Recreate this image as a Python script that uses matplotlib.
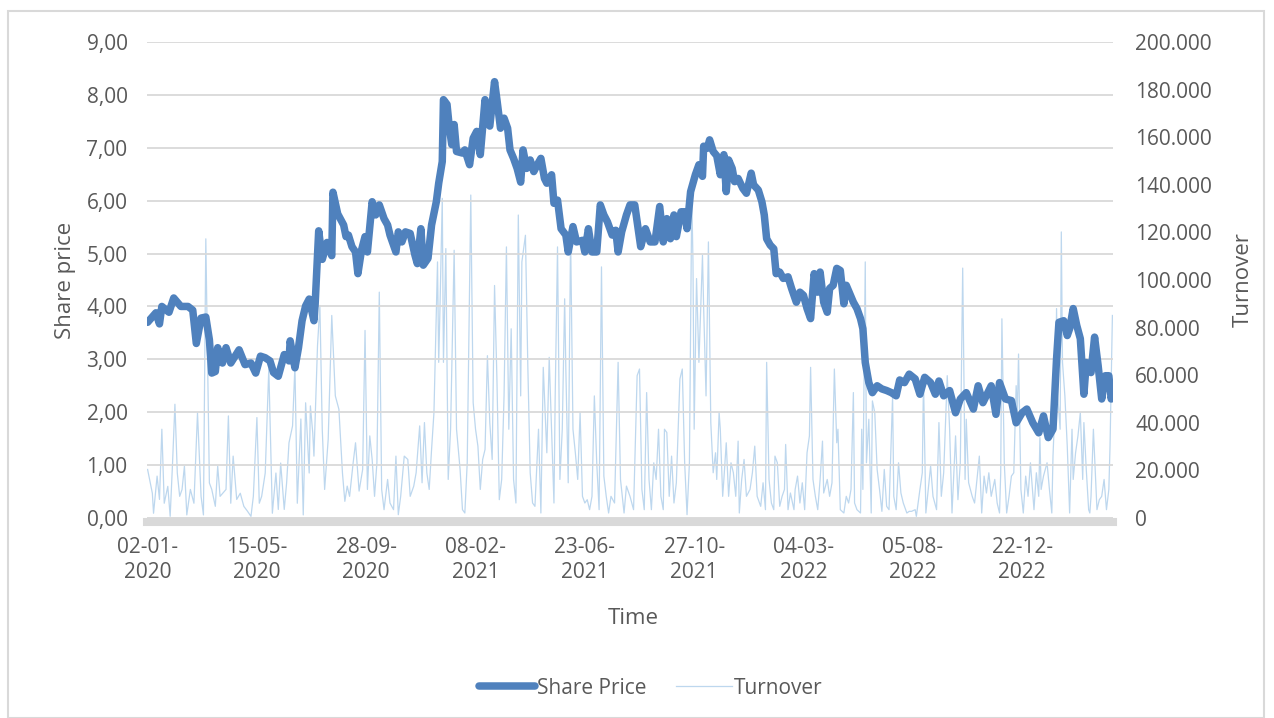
import matplotlib.pyplot as plt
from matplotlib.patches import Rectangle
from matplotlib.ticker import FuncFormatter, MultipleLocator

plt.rcParams['font.family'] = ['Open Sans', 'DejaVu Sans']

# trading-day index (0 = 02-01-2020) and share price
price_day = [0, 7, 10, 12, 18, 22, 28, 34, 38, 41, 45, 49, 52, 54, 57, 59, 63, 66, 70, 77,
             82, 87, 91, 95, 99, 103, 106, 110, 115, 119, 120, 124, 127, 130, 133, 136, 140, 141, 144, 147,
             151, 155, 156, 160, 165, 167, 169, 172, 175, 177, 180, 183, 185, 189, 192, 195, 199, 202, 204, 209,
             211, 214, 217, 221, 225, 227, 230, 232, 236, 239, 243, 245, 248, 249, 252, 254, 256, 258, 260, 265,
             267, 271, 274, 277, 280, 284, 288, 292, 294, 297, 300, 303, 305, 308, 311, 314, 316, 319, 322, 325,
             328, 331, 334, 336, 340, 342, 345, 348, 352, 354, 358, 361, 366, 368, 371, 374, 378, 381, 384, 387,
             391, 394, 396, 399, 403, 406, 410, 415, 419, 423, 427, 431, 434, 437, 440, 443, 445, 449, 452, 454,
             457, 461, 464, 467, 468, 471, 473, 476, 479, 482, 485, 487, 489, 492, 494, 497, 501, 504, 508, 510,
             514, 517, 519, 521, 524, 527, 529, 532, 535, 539, 542, 546, 549, 552, 555, 558, 561, 564, 566, 569,
             572, 574, 577, 580, 583, 586, 588, 591, 594, 597, 600, 602, 604, 607, 610, 614, 618, 622, 626, 630,
             633, 637, 641, 646, 650, 654, 659, 663, 666, 670, 675, 680, 684, 689, 695, 699, 703, 708, 710, 714,
             717, 722, 727, 731, 736, 740, 745, 750, 754, 758, 762, 765, 767, 771, 774, 776, 779, 782, 785, 788,
             790, 794, 797, 800, 803, 806, 809, 811, 812]
price = [3.70, 3.88, 3.67, 4.00, 3.89, 4.16, 4.00, 4.00, 3.93, 3.30, 3.78, 3.80, 3.37, 2.74, 2.77, 3.22, 2.93, 3.22, 2.93, 3.18,
         2.90, 2.93, 2.74, 3.06, 3.03, 2.97, 2.75, 2.68, 3.09, 2.97, 3.35, 2.84, 3.22, 3.73, 4.01, 4.14, 3.73, 4.04, 5.43, 4.89,
         5.21, 4.96, 6.16, 5.75, 5.54, 5.32, 5.35, 5.13, 5.03, 4.62, 5.06, 5.32, 5.03, 5.98, 5.73, 5.92, 5.66, 5.54, 5.35, 5.03,
         5.41, 5.22, 5.41, 5.38, 4.97, 4.81, 5.47, 4.78, 4.91, 5.54, 5.98, 6.33, 6.74, 7.91, 7.82, 7.37, 7.06, 7.44, 6.93, 6.90,
         6.96, 6.68, 7.18, 7.31, 6.87, 7.91, 7.41, 8.25, 7.91, 7.37, 7.56, 7.37, 6.96, 6.80, 6.61, 6.35, 6.96, 6.61, 6.77, 6.55,
         6.68, 6.80, 6.42, 6.33, 6.49, 5.95, 6.01, 5.47, 5.35, 5.03, 5.51, 5.22, 5.25, 5.03, 5.47, 5.03, 5.03, 5.92, 5.73, 5.60,
         5.35, 5.44, 5.03, 5.41, 5.73, 5.92, 5.92, 5.13, 5.47, 5.22, 5.22, 5.89, 5.22, 5.66, 5.28, 5.73, 5.32, 5.79, 5.79, 5.47,
         6.17, 6.49, 6.68, 6.46, 7.03, 6.99, 7.15, 6.93, 6.85, 6.49, 6.87, 6.17, 6.77, 6.61, 6.36, 6.42, 6.23, 6.14, 6.52, 6.30,
         6.20, 5.98, 5.73, 5.28, 5.16, 5.09, 4.62, 4.65, 4.53, 4.56, 4.34, 4.08, 4.27, 4.21, 3.96, 3.77, 4.62, 4.27, 4.65, 4.08,
         3.89, 4.34, 4.40, 4.72, 4.68, 4.05, 4.40, 4.24, 4.08, 3.96, 3.77, 3.58, 2.94, 2.56, 2.37, 2.50, 2.44, 2.41, 2.37, 2.31,
         2.61, 2.56, 2.72, 2.63, 2.34, 2.66, 2.56, 2.34, 2.59, 2.31, 2.41, 1.99, 2.25, 2.37, 2.06, 2.50, 2.18, 2.41, 2.50, 1.96,
         2.56, 2.25, 2.22, 1.80, 1.99, 2.06, 1.80, 1.61, 1.93, 1.52, 1.68, 3.01, 3.70, 3.73, 3.45, 3.58, 3.96, 3.64, 3.39, 2.34,
         2.94, 2.75, 3.42, 2.88, 2.25, 2.69, 2.69, 2.25, 2.37]

# turnover (thousands)
turnover_day = [0, 4, 5, 8, 10, 12, 14, 17, 19, 21, 23, 25, 27, 29, 31, 33, 36, 39, 42, 45,
                47, 49, 52, 54, 57, 59, 61, 66, 68, 70, 72, 75, 78, 81, 84, 87, 89, 92, 94, 96,
                99, 102, 105, 108, 110, 112, 115, 117, 119, 122, 124, 126, 129, 131, 133, 136, 137, 139, 140, 143,
                145, 147, 149, 152, 155, 158, 161, 164, 166, 168, 170, 173, 175, 178, 181, 183, 185, 187, 189, 191,
                193, 195, 197, 199, 202, 204, 207, 209, 211, 213, 216, 219, 221, 224, 226, 229, 231, 233, 235, 237,
                239, 241, 244, 245, 246, 248, 249, 251, 253, 255, 258, 260, 263, 265, 267, 269, 272, 274, 276, 278,
                280, 282, 284, 286, 288, 290, 292, 294, 296, 298, 300, 302, 304, 306, 308, 310, 312, 314, 315, 318,
                320, 322, 324, 326, 329, 331, 333, 336, 338, 340, 342, 343, 345, 347, 349, 351, 352, 354, 356, 358,
                360, 362, 364, 366, 368, 370, 372, 374, 376, 378, 380, 382, 384, 386, 388, 390, 393, 396, 398, 401,
                403, 406, 409, 412, 414, 416, 418, 420, 422, 424, 426, 428, 430, 432, 434, 435, 437, 439, 441, 443,
                445, 448, 450, 452, 454, 456, 458, 459, 460, 462, 464, 467, 468, 470, 472, 474, 476, 478, 479, 481,
                482, 484, 485, 487, 489, 491, 493, 495, 497, 498, 500, 502, 504, 507, 509, 511, 513, 516, 518, 520,
                521, 523, 525, 527, 528, 530, 532, 534, 536, 537, 539, 541, 544, 545, 547, 549, 551, 553, 555, 557,
                558, 560, 562, 564, 566, 568, 569, 572, 574, 576, 578, 580, 581, 583, 586, 588, 590, 592, 594, 595,
                597, 600, 601, 602, 604, 605, 607, 609, 610, 612, 614, 616, 618, 620, 622, 624, 627, 628, 630, 632,
                634, 636, 639, 641, 643, 646, 647, 650, 652, 653, 655, 657, 659, 661, 664, 666, 668, 670, 673, 675,
                677, 679, 680, 682, 684, 686, 688, 689, 691, 694, 696, 698, 700, 702, 704, 706, 708, 710, 713, 715,
                717, 718, 719, 721, 723, 725, 727, 729, 731, 732, 733, 735, 737, 739, 741, 743, 746, 748, 750, 751,
                752, 754, 757, 759, 761, 762, 764, 765, 766, 768, 769, 770, 772, 774, 776, 778, 779, 781, 783, 785,
                787, 788, 790, 792, 793, 794, 796, 799, 801, 803, 805, 807, 809, 810, 812]
turnover_k = [20.4, 10.4, 2.0, 17.6, 7.8, 37.3, 6.2, 13.3, 0.7, 23.1, 47.8, 18.9, 9.1, 12.0, 21.8, 1.3, 12.0, 6.2, 44.2, 9.1,
              1.3, 117.3, 14.7, 12.0, 4.9, 21.8, 9.1, 12.0, 42.9, 6.2, 26.0, 7.8, 10.4, 4.9, 2.9, 0.7, 9.1, 42.2, 6.2, 9.1,
              18.9, 62.7, 2.0, 18.9, 3.6, 23.1, 3.6, 14.7, 31.6, 38.7, 64.0, 6.2, 41.6, 1.3, 48.4, 18.9, 47.1, 35.8, 26.0, 72.4,
              89.3, 37.3, 12.0, 33.1, 85.1, 51.3, 45.7, 18.9, 7.0, 13.4, 9.1, 23.2, 31.6, 11.3, 20.4, 78.8, 12.0, 34.5, 24.6, 9.1,
              23.2, 94.9, 12.0, 3.5, 16.2, 6.3, 3.5, 26.0, 1.4, 9.1, 26.0, 24.6, 9.1, 13.4, 19.0, 38.7, 14.8, 40.1, 19.0, 12.0,
              28.8, 44.3, 107.6, 65.4, 86.5, 134.3, 65.4, 113.2, 16.2, 37.3, 112.5, 37.3, 20.4, 3.5, 2.1, 23.2, 135.7, 48.5, 37.3, 30.2,
              12.0, 24.6, 28.8, 68.2, 40.1, 24.6, 97.7, 58.4, 7.7, 16.2, 51.3, 113.9, 37.3, 79.5, 16.2, 6.3, 127.3, 51.3, 107.6, 118.8,
              64.0, 19.0, 6.3, 4.9, 37.3, 2.1, 63.3, 27.4, 67.5, 37.3, 6.3, 49.9, 113.9, 16.2, 37.3, 92.1, 62.6, 14.8, 118.8, 37.3,
              27.4, 16.2, 44.3, 9.1, 6.3, 7.7, 3.5, 9.1, 51.3, 23.2, 3.5, 105.5, 17.6, 9.1, 2.1, 9.1, 6.3, 65.4, 16.2, 2.1,
              13.4, 9.1, 3.5, 59.8, 62.6, 12.0, 3.5, 52.7, 16.2, 3.5, 23.2, 16.2, 37.3, 9.1, 3.5, 37.3, 35.9, 9.1, 26.0, 6.3,
              14.8, 58.4, 62.6, 23.2, 1.4, 23.2, 135.7, 107.6, 37.3, 100.6, 65.4, 110.4, 88.0, 51.3, 116.0, 40.1, 19.0, 27.4, 16.2, 44.3,
              37.3, 9.1, 16.2, 31.6, 9.1, 23.2, 19.0, 9.1, 32.3, 2.1, 16.2, 24.6, 9.1, 12.0, 19.0, 30.2, 9.1, 4.9, 14.8, 3.5,
              65.4, 16.2, 6.3, 3.5, 26.0, 23.2, 4.9, 9.1, 12.0, 30.9, 3.5, 10.5, 3.5, 12.0, 17.6, 6.3, 14.8, 3.5, 27.4, 34.5,
              63.3, 16.2, 9.1, 3.5, 16.2, 32.3, 10.5, 16.2, 9.1, 14.8, 62.6, 31.6, 37.3, 3.5, 2.1, 9.1, 6.3, 12.0, 52.7, 6.3,
              3.5, 2.1, 37.3, 12.0, 107.6, 23.2, 41.5, 2.1, 49.2, 44.3, 20.4, 12.0, 2.8, 20.4, 4.9, 3.5, 51.3, 9.1, 3.5, 23.2,
              10.5, 6.3, 2.1, 2.8, 2.8, 3.5, 0.7, 12.0, 19.0, 58.4, 2.1, 12.0, 21.8, 9.1, 3.5, 40.1, 9.1, 19.0, 59.8, 37.3,
              2.1, 23.2, 34.5, 7.7, 23.2, 105.0, 16.2, 41.5, 14.8, 9.1, 6.3, 16.2, 26.0, 2.1, 17.6, 10.5, 19.0, 9.1, 16.2, 6.3,
              2.1, 19.0, 83.7, 23.2, 2.1, 9.1, 17.6, 19.0, 55.6, 44.3, 68.9, 12.0, 2.1, 17.6, 9.1, 23.2, 3.5, 19.0, 9.1, 33.8,
              12.0, 17.6, 23.2, 12.0, 2.1, 26.0, 51.3, 88.0, 51.3, 37.3, 120.2, 65.4, 51.3, 30.2, 2.1, 37.3, 16.2, 27.4, 34.5, 44.3,
              16.2, 40.1, 20.4, 3.5, 2.1, 9.1, 37.3, 3.5, 7.7, 9.1, 16.2, 3.5, 12.0, 30.2, 85.1]
turnover = [v * 1000 for v in turnover_k]

n_days = 813
label_days = [0, 92, 184, 276, 368, 460, 552, 644, 736]
label_text = ['02-01-\n2020', '15-05-\n2020', '28-09-\n2020', '08-02-\n2021', '23-06-\n2021',
              '27-10-\n2021', '04-03-\n2022', '05-08-\n2022', '22-12-\n2022']

txt = '#595959'
grid_c = '#D9D9D9'

fig = plt.figure(figsize=(12.74, 7.18), dpi=100)
fig.patches.append(Rectangle((8 / 1274, 0), 1256 / 1274, 1 - 11 / 718, transform=fig.transFigure,
                             fill=False, edgecolor=grid_c, lw=1.5))

ax = fig.add_axes([147 / 1274, 1 - 518 / 718, 966 / 1274, 476 / 718])
ax2 = ax.twinx()
ax.set_zorder(ax2.get_zorder() + 1)
ax.patch.set_visible(False)

l2, = ax2.plot(turnover_day, turnover, color='#BDD7EE', lw=0.9, label='Turnover')
l1, = ax.plot(price_day, price, color='#4F81BD', lw=5.4, solid_joinstyle='round',
              solid_capstyle='round', label='Share Price')

ax.set_xlim(-0.5, n_days - 0.5)
ax.set_ylim(0, 9)
ax2.set_ylim(0, 200000)
ax.yaxis.set_major_locator(MultipleLocator(1))
ax2.yaxis.set_major_locator(MultipleLocator(20000))
ax.yaxis.set_major_formatter(FuncFormatter(lambda v, p: f'{v:.2f}'.replace('.', ',')))
ax2.yaxis.set_major_formatter(FuncFormatter(lambda v, p: f'{int(v):,}'.replace(',', '.')))
ax.set_xticks(label_days)
ax.set_xticklabels(label_text, linespacing=1.85)

ax.grid(axis='y', color=grid_c, lw=1.3)
ax.set_axisbelow(True)
for a in (ax, ax2):
    for s in ('left', 'right', 'top', 'bottom'):
        a.spines[s].set_visible(False)
ax.spines['bottom'].set_visible(True)
ax.spines['bottom'].set_color(grid_c)
ax.spines['bottom'].set_linewidth(5.8)
ax.spines['bottom'].set_position(('outward', 3))

ax.tick_params(axis='y', length=0, pad=14, labelsize=15, labelcolor=txt)
ax.tick_params(axis='x', length=0, pad=11, labelsize=15, labelcolor=txt)
ax2.tick_params(axis='y', length=0, pad=16, labelsize=15, labelcolor=txt)

ax.set_ylabel('Share price', fontsize=16, color=txt)
ax.yaxis.set_label_coords(-0.074, 0.5)
ax2.set_ylabel('Turnover', fontsize=16, color=txt)
ax2.yaxis.set_label_coords(1.124, 0.5)
ax.set_xlabel('Time', fontsize=16, color=txt)
ax.xaxis.set_label_coords(0.503, -0.19)

fig.legend(handles=[l1, l2], loc='center', bbox_to_anchor=(651 / 1274, 1 - 688 / 718), ncol=2,
           frameon=False, fontsize=15, handlelength=2.7, handletextpad=0.1, columnspacing=1.4,
           labelcolor=txt)

fig.savefig('out.png', dpi=100)
